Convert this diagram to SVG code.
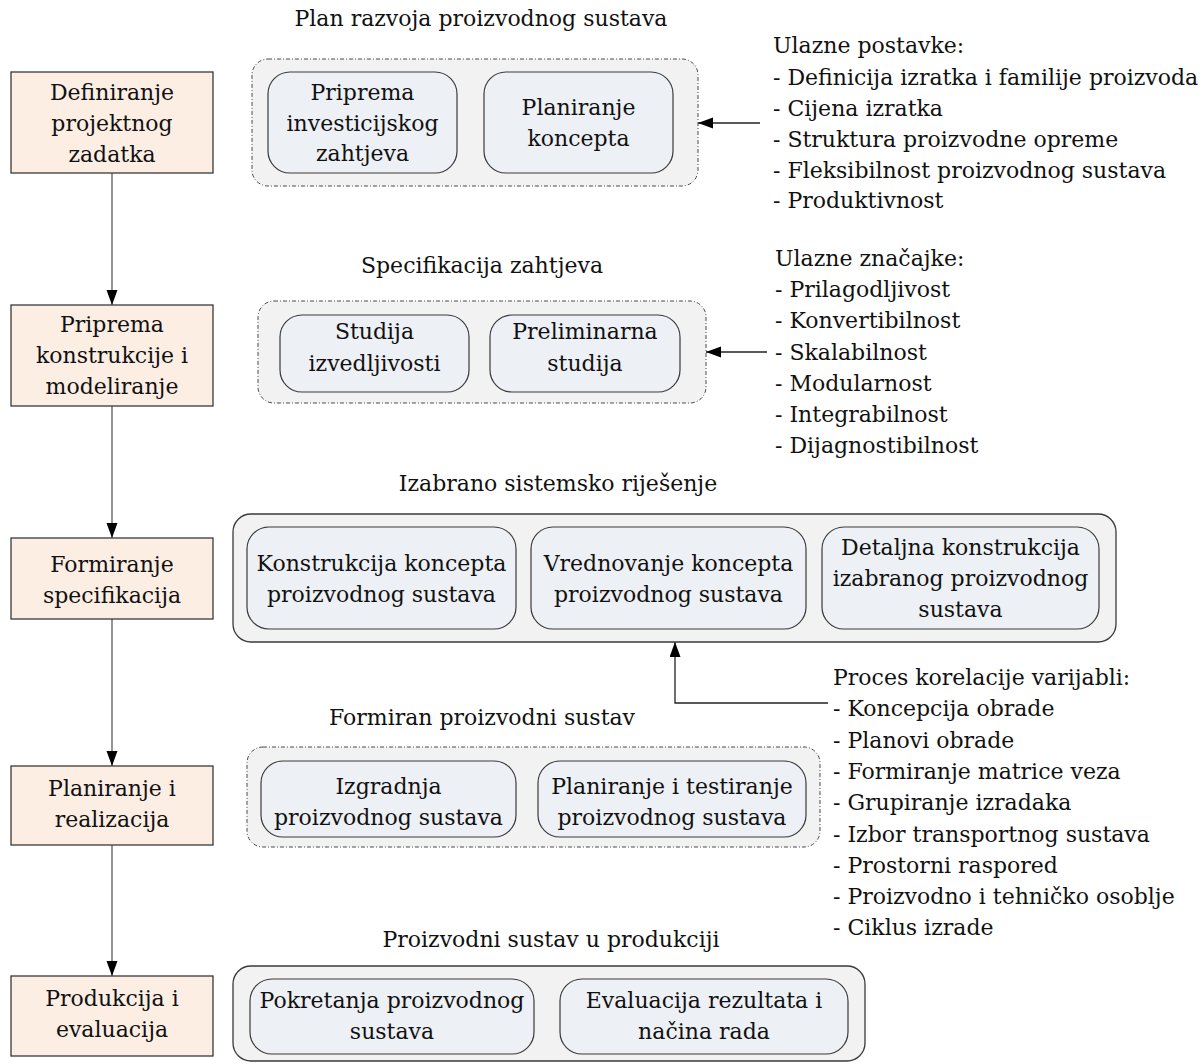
<svg xmlns="http://www.w3.org/2000/svg" width="1203" height="1064" viewBox="0 0 1203 1064">
<style>
text{font-family:"DejaVu Serif","Liberation Serif",serif;font-size:22px;fill:#111}
.c{text-anchor:middle}
.step{fill:#FDEEE4;stroke:#3a3a3a;stroke-width:1.3}
.grpd{fill:#F2F2F2;stroke:#4a4a4a;stroke-width:1;stroke-dasharray:4 2 1 2}
.grps{fill:#F2F2F2;stroke:#3a3a3a;stroke-width:1.3}
.inner{fill:#EDF0F5;stroke:#3a3a3a;stroke-width:1.2}
.vline{fill:none;stroke:#7a7a7a;stroke-width:1.6}
.hline{fill:none;stroke:#222;stroke-width:1.3}
</style>
<defs>
<marker id="ah" markerUnits="userSpaceOnUse" markerWidth="16" markerHeight="12" refX="15" refY="5.5" orient="auto">
<path d="M0,0 L15,5.5 L0,11 z" fill="#000"/>
</marker>
</defs>

<g id="connectors">
<line class="vline" x1="112" y1="173" x2="112" y2="305" marker-end="url(#ah)"/>
<line class="vline" x1="112" y1="406" x2="112" y2="538" marker-end="url(#ah)"/>
<line class="vline" x1="112" y1="619" x2="112" y2="766" marker-end="url(#ah)"/>
<line class="vline" x1="112" y1="845" x2="112" y2="976" marker-end="url(#ah)"/>
<line class="hline" x1="760" y1="123" x2="698" y2="123" marker-end="url(#ah)"/>
<line class="hline" x1="767" y1="352" x2="706" y2="352" marker-end="url(#ah)"/>
<polyline class="hline" points="828,703 675,703 675,642" marker-end="url(#ah)"/>
</g>

<g id="step1"><rect class="step" x="11" y="72" width="202" height="101"/>
<text class="c" x="112" y="100">Definiranje</text><text class="c" x="112" y="131">projektnog</text><text class="c" x="112" y="162">zadatka</text></g>
<g id="step2"><rect class="step" x="11" y="305" width="202" height="101"/>
<text class="c" x="112" y="332">Priprema</text><text class="c" x="112" y="363">konstrukcije i</text><text class="c" x="112" y="394">modeliranje</text></g>
<g id="step3"><rect class="step" x="11" y="538" width="202" height="81"/>
<text class="c" x="112" y="572">Formiranje</text><text class="c" x="112" y="603">specifikacija</text></g>
<g id="step4"><rect class="step" x="11" y="766" width="202" height="79"/>
<text class="c" x="112" y="796">Planiranje i</text><text class="c" x="112" y="827">realizacija</text></g>
<g id="step5"><rect class="step" x="11" y="976" width="202" height="80"/>
<text class="c" x="112" y="1006">Produkcija i</text><text class="c" x="112" y="1037">evaluacija</text></g>

<g id="group1">
<text class="c" x="481" y="26">Plan razvoja proizvodnog sustava</text>
<rect class="grpd" x="252" y="59" width="446" height="127" rx="16"/>
<rect class="inner" x="268" y="72" width="189" height="101" rx="22"/>
<text class="c" x="362.5" y="100">Priprema</text><text class="c" x="362.5" y="131">investicijskog</text><text class="c" x="362.5" y="161">zahtjeva</text>
<rect class="inner" x="484" y="72" width="189" height="101" rx="22"/>
<text class="c" x="578.5" y="115">Planiranje</text><text class="c" x="578.5" y="146">koncepta</text>
</g>

<g id="inputs1">
<text x="773" y="53">Ulazne postavke:</text>
<text x="773" y="85">- Definicija izratka i familije proizvoda</text>
<text x="773" y="116">- Cijena izratka</text>
<text x="773" y="147">- Struktura proizvodne opreme</text>
<text x="773" y="178">- Fleksibilnost proizvodnog sustava</text>
<text x="773" y="208">- Produktivnost</text>
</g>

<g id="group2">
<text class="c" x="482" y="273">Specifikacija zahtjeva</text>
<rect class="grpd" x="258" y="301" width="448" height="102" rx="16"/>
<rect class="inner" x="280" y="315" width="189" height="77" rx="22"/>
<text class="c" x="374.5" y="339">Studija</text><text class="c" x="374.5" y="371">izvedljivosti</text>
<rect class="inner" x="490" y="315" width="190" height="77" rx="22"/>
<text class="c" x="585" y="339">Preliminarna</text><text class="c" x="585" y="371">studija</text>
</g>

<g id="inputs2">
<text x="775" y="266">Ulazne značajke:</text>
<text x="775" y="297">- Prilagodljivost</text>
<text x="775" y="328">- Konvertibilnost</text>
<text x="775" y="360">- Skalabilnost</text>
<text x="775" y="391">- Modularnost</text>
<text x="775" y="422">- Integrabilnost</text>
<text x="775" y="453">- Dijagnostibilnost</text>
</g>

<g id="group3">
<text class="c" x="558" y="491">Izabrano sistemsko riješenje</text>
<rect class="grps" x="233" y="514" width="883" height="128" rx="18"/>
<rect class="inner" x="247" y="527" width="269" height="102" rx="22"/>
<text class="c" x="381.5" y="571">Konstrukcija koncepta</text><text class="c" x="381.5" y="602">proizvodnog sustava</text>
<rect class="inner" x="531" y="527" width="275" height="102" rx="22"/>
<text class="c" x="668.5" y="571">Vrednovanje koncepta</text><text class="c" x="668.5" y="602">proizvodnog sustava</text>
<rect class="inner" x="822" y="527" width="277" height="102" rx="22"/>
<text class="c" x="960.5" y="555">Detaljna konstrukcija</text><text class="c" x="960.5" y="586">izabranog proizvodnog</text><text class="c" x="960.5" y="617">sustava</text>
</g>

<g id="inputs3">
<text x="833" y="685">Proces korelacije varijabli:</text>
<text x="833" y="716">- Koncepcija obrade</text>
<text x="833" y="748">- Planovi obrade</text>
<text x="833" y="779">- Formiranje matrice veza</text>
<text x="833" y="810">- Grupiranje izradaka</text>
<text x="833" y="842">- Izbor transportnog sustava</text>
<text x="833" y="873">- Prostorni raspored</text>
<text x="833" y="904">- Proizvodno i tehničko osoblje</text>
<text x="833" y="935">- Ciklus izrade</text>
</g>

<g id="group4">
<text class="c" x="482" y="725">Formiran proizvodni sustav</text>
<rect class="grpd" x="247" y="747" width="573" height="100" rx="16"/>
<rect class="inner" x="261" y="761" width="255" height="76" rx="22"/>
<text class="c" x="388.5" y="794">Izgradnja</text><text class="c" x="388.5" y="825">proizvodnog sustava</text>
<rect class="inner" x="538" y="761" width="268" height="76" rx="22"/>
<text class="c" x="672" y="794">Planiranje i testiranje</text><text class="c" x="672" y="825">proizvodnog sustava</text>
</g>

<g id="group5">
<text class="c" x="551" y="947">Proizvodni sustav u produkciji</text>
<rect class="grps" x="233" y="966" width="632" height="95" rx="18"/>
<rect class="inner" x="250" y="979" width="284" height="75" rx="22"/>
<text class="c" x="392" y="1008">Pokretanja proizvodnog</text><text class="c" x="392" y="1039">sustava</text>
<rect class="inner" x="560" y="979" width="288" height="75" rx="22"/>
<text class="c" x="704" y="1008">Evaluacija rezultata i</text><text class="c" x="704" y="1039">načina rada</text>
</g>
</svg>
